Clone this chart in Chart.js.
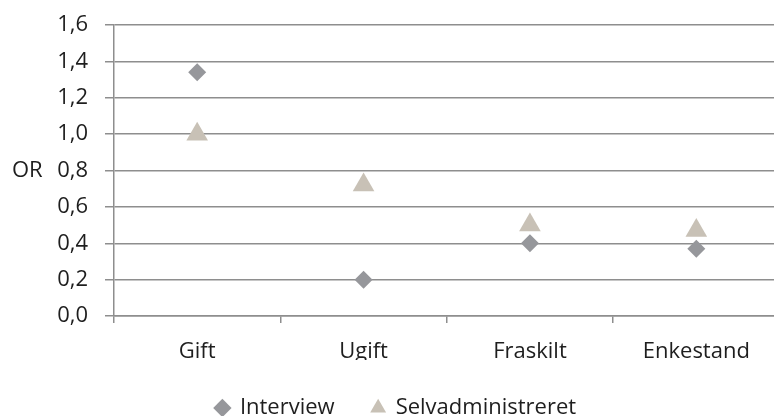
<!DOCTYPE html>
<html>
<head>
<meta charset="utf-8">
<script src="https://cdn.jsdelivr.net/npm/chart.js@4/dist/chart.umd.min.js"></script>
<style>
  html, body { margin: 0; padding: 0; background: #ffffff; overflow: hidden; width: 774px; height: 416px; }
  canvas { display: block; }
</style>
</head>
<body>
<canvas id="c" width="792" height="416"></canvas>
<script>
const categories = ['Gift', 'Ugift', 'Fraskilt', 'Enkestand'];
const interview = [1.34, 0.20, 0.40, 0.37];
const selvadministreret = [1.00, 0.72, 0.50, 0.47];
const seriesNames = ['Interview', 'Selvadministreret'];
const yTickValues = [0, 0.2, 0.4, 0.6, 0.8, 1.0, 1.2, 1.4, 1.6];
const yTickLabels = ['0,0', '0,2', '0,4', '0,6', '0,8', '1,0', '1,2', '1,4', '1,6'];
const yAxisTitle = 'OR';

const textColor = '#1e1e1e';
const gridColor = '#8e8e8e';
const fontFamily = "'Open Sans', 'Noto Sans', sans-serif";

Chart.defaults.font.family = fontFamily;
Chart.defaults.font.size = 22;
Chart.defaults.color = textColor;

const orTitle = {
  id: 'orTitle',
  afterDraw(chart) {
    const ctx = chart.ctx;
    const y = chart.scales.y.getPixelForValue(yTickValues[4]);
    ctx.save();
    ctx.font = '22px ' + fontFamily;
    ctx.fillStyle = textColor;
    ctx.textAlign = 'left';
    ctx.textBaseline = 'middle';
    ctx.fillText(yAxisTitle, 12, y);
    ctx.restore();
  }
};

const legendHeight = {
  id: 'legendHeight',
  beforeInit(chart) {
    const orig = chart.legend.fit;
    chart.legend.fit = function () {
      orig.call(this);
      this.height = 56;
    };
  }
};

new Chart(document.getElementById('c'), {
  type: 'line',
  data: {
    labels: categories,
    datasets: [
      {
        label: seriesNames[0],
        data: interview,
        showLine: false,
        pointStyle: 'rectRot',
        pointRadius: 9,
        pointBackgroundColor: '#96979b',
        pointBorderColor: '#96979b',
        pointBorderWidth: 0,
        backgroundColor: '#96979b',
        borderColor: '#96979b'
      },
      {
        label: seriesNames[1],
        data: selvadministreret,
        showLine: false,
        pointStyle: 'triangle',
        pointRadius: 12.5,
        pointBackgroundColor: '#c8c1b6',
        pointBorderColor: '#c8c1b6',
        pointBorderWidth: 0,
        backgroundColor: '#c8c1b6',
        borderColor: '#c8c1b6'
      }
    ]
  },
  options: {
    responsive: false,
    animation: false,
    layout: { padding: { top: 25, left: 0, right: 0, bottom: 0 } },
    plugins: {
      tooltip: { enabled: false },
      legend: {
        position: 'bottom',
        labels: {
          usePointStyle: true,
          boxWidth: 13,
          boxHeight: 13,
          padding: 37,
          color: textColor,
          font: { size: 22, family: fontFamily }
        }
      }
    },
    scales: {
      x: {
        type: 'category',
        offset: true,
        afterFit(scale) { scale.height = 44; scale.paddingLeft = 0; scale.paddingRight = 0; },
        grid: {
          display: true,
          offset: true,
          drawOnChartArea: false,
          drawTicks: true,
          tickLength: 7,
          color: gridColor,
          lineWidth: 1.5
        },
        border: { display: true, color: gridColor, width: 1.5 },
        ticks: { padding: 16, color: textColor, font: { size: 22 }, maxRotation: 0 }
      },
      y: {
        min: 0,
        max: 1.6,
        afterFit(scale) { scale.width = 114; scale.paddingTop = 0; scale.paddingBottom = 0; },
        afterBuildTicks(scale) { scale.ticks = yTickValues.map(v => ({ value: v })); },
        grid: {
          display: true,
          drawTicks: true,
          tickLength: 9,
          color: gridColor,
          lineWidth: 1.5
        },
        border: { display: true, color: gridColor, width: 1.5 },
        ticks: {
          padding: 17,
          color: textColor,
          font: { size: 22 },
          callback(value) {
            const i = yTickValues.findIndex(v => Math.abs(v - value) < 1e-9);
            return i >= 0 ? yTickLabels[i] : '';
          }
        }
      }
    }
  },
  plugins: [orTitle, legendHeight]
});
</script>
</body>
</html>
